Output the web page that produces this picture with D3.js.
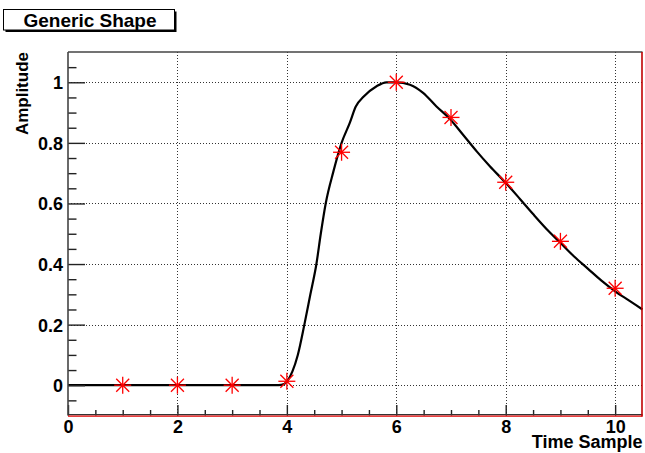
<!DOCTYPE html>
<html>
<head>
<meta charset="utf-8">
<script src="https://cdn.jsdelivr.net/npm/d3@7"></script>
<style>
html,body{margin:0;padding:0;background:#fff;}
svg{display:block;}
text{font-family:"Liberation Sans",Arial,Helvetica,sans-serif;font-weight:bold;fill:#000;}
</style>
</head>
<body>
<svg id="chart" width="645" height="453"></svg>
<script>
// ---- data ----
const title = "Generic Shape";
const xLabel = "Time Sample";
const yLabel = "Amplitude";
const sampleX = [1, 2, 3, 4, 5, 6, 7, 8, 9, 10];
const sampleY = [0, 0, 0, 0.013, 0.769, 1.0, 0.884, 0.670, 0.475, 0.320];
const curveX = [0, 1, 2, 3, 3.85, 3.95, 4.0, 4.1, 4.2, 4.32, 4.43, 4.54, 4.62, 4.71, 4.85, 5.0, 5.15, 5.26, 5.4, 5.64, 5.82, 6.0, 6.25, 6.49, 6.73, 6.98, 7.22, 7.47, 7.71, 8.0, 8.26, 8.5, 8.75, 9.0, 9.25, 9.5, 9.75, 10.0, 10.25, 10.5];
const curveY = [0, 0, 0, 0, 0, 0.004, 0.012, 0.045, 0.1, 0.2, 0.3, 0.4, 0.5, 0.6, 0.705, 0.8, 0.866, 0.92, 0.952, 0.987, 1.0, 1.0, 0.992, 0.965, 0.921, 0.879, 0.827, 0.772, 0.723, 0.668, 0.615, 0.565, 0.515, 0.470, 0.425, 0.385, 0.345, 0.310, 0.280, 0.250];
const xTicks = [0, 2, 4, 6, 8, 10];
const xMinorTicks = [0.5, 1, 1.5, 2.5, 3, 3.5, 4.5, 5, 5.5, 6.5, 7, 7.5, 8.5, 9, 9.5];
const yTicks = [0, 0.2, 0.4, 0.6, 0.8, 1];
const yMinorTicks = [-0.05, 0.05, 0.1, 0.15, 0.25, 0.3, 0.35, 0.45, 0.5, 0.55, 0.65, 0.7, 0.75, 0.85, 0.9, 0.95, 1.05];
const xDomain = [0, 10.5];
const yDomain = [-0.1, 1.1];

// ---- layout ----
const L = 68, R = 642.5, T = 52, B = 415.5;
const svg = d3.select("#chart");
const x = d3.scaleLinear().domain(xDomain).range([L, R]);
const y = d3.scaleLinear().domain(yDomain).range([B, T]);

// grid
const grid = svg.append("g").attr("stroke", "#333").attr("stroke-width", 1).attr("stroke-dasharray", "1,2");
grid.selectAll(".gx").data(xTicks.filter(d => d > xDomain[0])).join("line")
  .attr("x1", d => Math.round(x(d)) + 0.5).attr("x2", d => Math.round(x(d)) + 0.5)
  .attr("y1", T).attr("y2", B);
grid.selectAll(".gy").data(yTicks).join("line")
  .attr("y1", d => Math.round(y(d)) + 0.5).attr("y2", d => Math.round(y(d)) + 0.5)
  .attr("x1", L).attr("x2", R);

// curve
const pts = curveX.map((d, i) => [d, curveY[i]]);
svg.append("path").datum(pts)
  .attr("fill", "none").attr("stroke", "#000").attr("stroke-width", 2.2)
  .attr("d", d3.line().x(d => x(d[0])).y(d => y(d[1])).curve(d3.curveMonotoneX));

// star markers
const stars = svg.append("g").attr("stroke", "#ff0000").attr("stroke-width", 1.3);
const s = 8.5, sd = 6.5;
sampleX.forEach((d, i) => {
  const cx = x(d), cy = y(sampleY[i]);
  const g = stars.append("g").attr("transform", `translate(${cx},${cy})`);
  g.append("line").attr("x1", -s).attr("x2", s).attr("y1", 0).attr("y2", 0);
  g.append("line").attr("x1", 0).attr("x2", 0).attr("y1", -s).attr("y2", s);
  g.append("line").attr("x1", -sd).attr("x2", sd).attr("y1", -sd).attr("y2", sd);
  g.append("line").attr("x1", -sd).attr("x2", sd).attr("y1", sd).attr("y2", -sd);
});

// axes
const fontSize = "18px";
const yAxis = svg.append("g").attr("transform", `translate(${L},0)`)
  .call(d3.axisLeft(y).tickValues(yTicks).tickSize(-17).tickPadding(5).tickFormat(d => String(d)));
const yMinor = svg.append("g").attr("transform", `translate(${L},0)`)
  .call(d3.axisLeft(y).tickValues(yMinorTicks).tickSize(-8.5).tickFormat(""));
const xAxis = svg.append("g").attr("transform", `translate(0,${B})`)
  .call(d3.axisBottom(x).tickValues(xTicks).tickSize(-10.5).tickPadding(5).tickFormat(d => String(d)));
const xMinor = svg.append("g").attr("transform", `translate(0,${B})`)
  .call(d3.axisBottom(x).tickValues(xMinorTicks).tickSize(-5.5).tickFormat(""));
[yAxis, yMinor, xAxis, xMinor].forEach(a => {
  a.select(".domain").remove();
  a.selectAll(".tick line").attr("stroke", "#222").attr("stroke-width", 1.4);
  a.selectAll("text").style("font-size", fontSize).style("font-family", "'Liberation Sans',Arial,sans-serif").style("font-weight", "bold").attr("fill", "#000");
});
yAxis.selectAll("text").attr("dy", "0.36em");
xAxis.selectAll("text").attr("dy", "0.68em");

// frame
svg.append("line").attr("x1", L).attr("x2", L).attr("y1", T).attr("y2", B).attr("stroke", "#444").attr("stroke-width", 1.6);
svg.append("line").attr("x1", L).attr("x2", R).attr("y1", T).attr("y2", T).attr("stroke", "#444").attr("stroke-width", 1.6);
svg.append("line").attr("x1", L).attr("x2", R).attr("y1", B - 0.8).attr("y2", B - 0.8).attr("stroke", "#333").attr("stroke-width", 1.2);
svg.append("line").attr("x1", L).attr("x2", R).attr("y1", B + 0.6).attr("y2", B + 0.6).attr("stroke", "#e00000").attr("stroke-width", 1.4);
svg.append("line").attr("x1", R - 0.5).attr("x2", R - 0.5).attr("y1", T).attr("y2", B + 1).attr("stroke", "#c00000").attr("stroke-width", 1.6);

// axis titles
svg.append("text").attr("x", R).attr("y", 448).attr("text-anchor", "end")
  .style("font-size", "18px").text(xLabel);
svg.append("text").attr("transform", `translate(28,${T}) rotate(-90)`).attr("text-anchor", "end")
  .style("font-size", "17px").text(yLabel);

// title box
svg.append("rect").attr("x", 5.5).attr("y", 11.5).attr("width", 171).attr("height", 20.5).attr("fill", "#000");
svg.append("rect").attr("x", 3.5).attr("y", 9.5).attr("width", 171).attr("height", 20.5).attr("fill", "#fff").attr("stroke", "#000").attr("stroke-width", 1);
svg.append("text").attr("x", 90).attr("y", 26.5).attr("text-anchor", "middle")
  .style("font-size", "19px").text(title);
</script>
</body>
</html>
